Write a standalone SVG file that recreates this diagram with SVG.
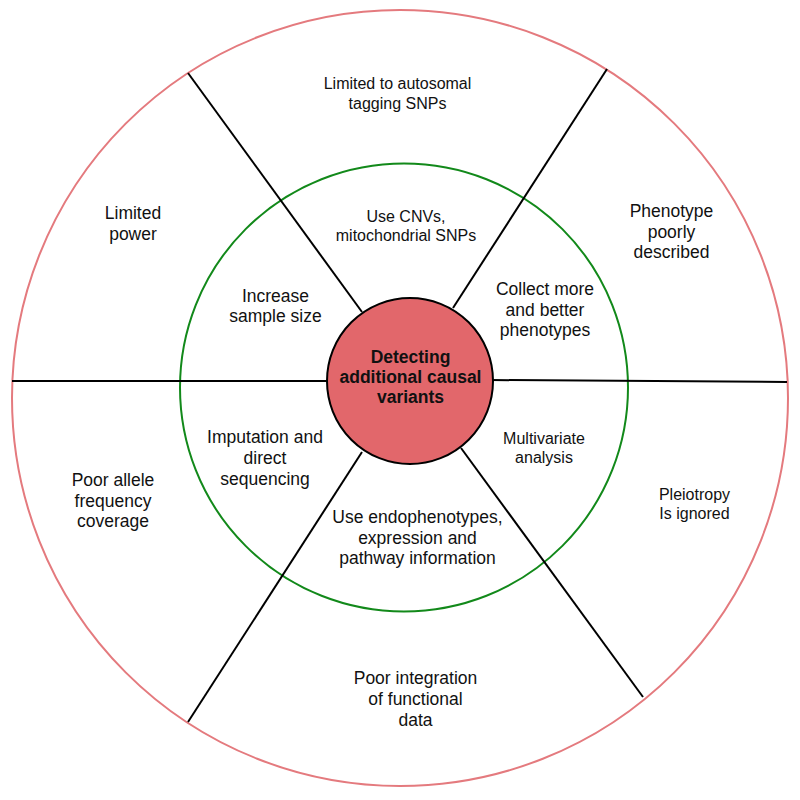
<svg xmlns="http://www.w3.org/2000/svg" width="800" height="800" viewBox="0 0 800 800">
<style>
  text { font-family: "Liberation Sans", Arial, sans-serif; fill: #111; text-anchor: middle; }
  .l { font-size: 17.5px; }
  .s { font-size: 16px; }
  .b { font-size: 17.5px; font-weight: bold; }
  .spoke { stroke: #000; stroke-width: 2; fill: none; }
</style>
<rect x="0" y="0" width="800" height="800" fill="#fff"/>
<g id="outer-ring">
  <circle cx="400" cy="398" r="388" fill="none" stroke="#e47a7e" stroke-width="2"/>
</g>
<g id="inner-ring">
  <circle cx="404" cy="387.5" r="224" fill="none" stroke="#12891a" stroke-width="2"/>
</g>
<g id="connectors">
  <line class="spoke" x1="12" y1="381" x2="329" y2="381"/>
  <line class="spoke" x1="491" y1="380" x2="787" y2="382"/>
  <line class="spoke" x1="188" y1="73" x2="362" y2="312"/>
  <line class="spoke" x1="607" y1="69" x2="453" y2="308"/>
  <line class="spoke" x1="188" y1="722" x2="362" y2="452"/>
  <line class="spoke" x1="643" y1="697" x2="461" y2="448"/>
</g>
<g id="center">
  <circle cx="410" cy="381" r="83" fill="#e2676b" stroke="#000" stroke-width="2"/>
  <text class="b" x="410.5" y="363">Detecting</text>
  <text class="b" x="410.5" y="383">additional causal</text>
  <text class="b" x="410.5" y="403">variants</text>
</g>
<g id="limited-autosomal">
  <text class="s" x="397.5" y="89">Limited to autosomal</text>
  <text class="s" x="397.5" y="109">tagging SNPs</text>
</g>
<g id="use-cnvs">
  <text class="s" x="406" y="221.5">Use CNVs,</text>
  <text class="s" x="406" y="240.5">mitochondrial SNPs</text>
</g>
<g id="limited-power">
  <text class="l" x="133" y="219">Limited</text>
  <text class="l" x="133" y="239.5">power</text>
</g>
<g id="increase-sample">
  <text class="l" x="275.5" y="302">Increase</text>
  <text class="l" x="275.5" y="322">sample size</text>
</g>
<g id="phenotype-poorly">
  <text class="l" x="671.5" y="217">Phenotype</text>
  <text class="l" x="671.5" y="238">poorly</text>
  <text class="l" x="671.5" y="257.5">described</text>
</g>
<g id="collect-more">
  <text class="l" x="545" y="295">Collect more</text>
  <text class="l" x="545" y="315.5">and better</text>
  <text class="l" x="545" y="336">phenotypes</text>
</g>
<g id="imputation">
  <text class="l" x="265" y="443">Imputation and</text>
  <text class="l" x="265" y="464">direct</text>
  <text class="l" x="265" y="484.5">sequencing</text>
</g>
<g id="multivariate">
  <text class="s" x="544" y="443.5">Multivariate</text>
  <text class="s" x="544" y="462.5">analysis</text>
</g>
<g id="poor-allele">
  <text class="l" x="113" y="486">Poor allele</text>
  <text class="l" x="113" y="506.5">frequency</text>
  <text class="l" x="113" y="527">coverage</text>
</g>
<g id="endophenotypes">
  <text class="l" x="417.5" y="523">Use endophenotypes,</text>
  <text class="l" x="417.5" y="543.5">expression and</text>
  <text class="l" x="417.5" y="564">pathway information</text>
</g>
<g id="pleiotropy">
  <text class="s" x="694.5" y="499.5">Pleiotropy</text>
  <text class="s" x="694.5" y="518.5">Is ignored</text>
</g>
<g id="poor-integration">
  <text class="l" x="415.5" y="684">Poor integration</text>
  <text class="l" x="415.5" y="705">of functional</text>
  <text class="l" x="415.5" y="726">data</text>
</g>
</svg>
